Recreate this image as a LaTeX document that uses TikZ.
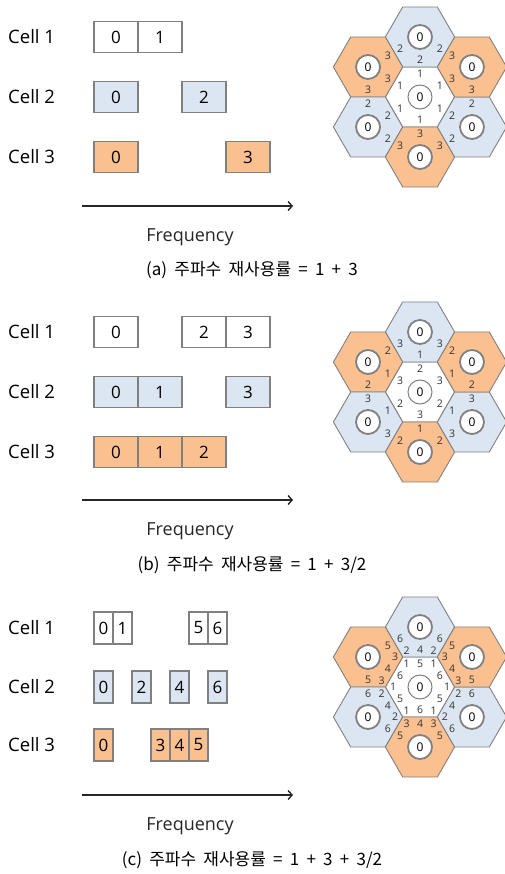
\documentclass[tikz,border=0pt]{standalone}
\usepackage{fontspec}
\setmainfont{Open Sans}
\newfontfamily\krfont[WordSpace=1.9]{Noto Sans CJK KR}
\usetikzlibrary{arrows.meta,positioning,shapes.geometric,calc}
\definecolor{SlotBlue}{RGB}{220,230,242}
\definecolor{SlotOrange}{RGB}{250,192,144}
\definecolor{LineGray}{RGB}{128,128,128}
\tikzset{
  cellname/.style={anchor=west,inner sep=0pt,font=\fontsize{18.5}{20}\selectfont},
  slotbox/.style={draw=LineGray,line width=1.1pt,fill=white,inner sep=0pt,outer sep=0pt,
    minimum width=44pt,minimum height=31pt,font=\fontsize{17}{20}\selectfont},
  narrowslot/.style={slotbox,minimum width=19pt,minimum height=32pt},
  blueslot/.style={fill=SlotBlue},
  orangeslot/.style={fill=SlotOrange},
  hexcell/.style={draw=LineGray,line width=0.9pt,regular polygon,regular polygon sides=6,
    minimum size=69.3pt,inner sep=0pt,outer sep=0pt},
  ring/.style={circle,draw=LineGray,line width=1.8pt,fill=white,minimum size=24pt,
    inner sep=0pt,font=\fontsize{12}{12}\selectfont},
  edgenum/.style={inner sep=0pt,text=black!80,font=\fontsize{10.5}{10}\selectfont},
  freqarrow/.style={-{Straight Barb[length=4pt,width=9pt]},line width=1.4pt,draw=black!85},
  freqtext/.style={font=\fontsize{18}{20}\selectfont,text=black!85},
  subcap/.style={font=\krfont\fontsize{17}{20}\selectfont},
}
\begin{document}
\begin{tikzpicture}[x=1pt,y=1pt]
\useasboundingbox (0,0) rectangle (505,-874);

% ---------- (a) 1 + 3
\node[cellname] (a-l1) at (8,-37) {Cell 1};
\node[cellname] (a-l2) at (8,-97) {Cell 2};
\node[cellname] (a-l3) at (8,-157) {Cell 3};
\node[slotbox,anchor=west] (a-1-0) at (94,-37) {0};
\node[slotbox,right=0pt of a-1-0] (a-1-1) {1};
\node[slotbox,blueslot,anchor=west] (a-2-0) at (94,-97) {0};
\node[slotbox,blueslot,right=44pt of a-2-0] (a-2-2) {2};
\node[slotbox,orangeslot,anchor=west] (a-3-0) at (94,-157) {0};
\node[slotbox,orangeslot,right=88pt of a-3-0] (a-3-3) {3};
\coordinate (a-f0) at (82,-206);
\coordinate (a-f1) at (293,-206);
\draw[freqarrow] (a-f0) -- (a-f1);
\node[freqtext] (a-freq) at (190,-237) {Frequency};
\node[subcap] (a-cap) at (252,-270) {(a) 주파수 재사용률 = 1 + 3};

\node[hexcell,fill=white] (a-h0) at (420,-97) {};
\foreach \k/\col [evaluate=\k as \ang using int(30+60*\k)] in
    {1/SlotBlue,2/SlotOrange,3/SlotBlue,4/SlotOrange,5/SlotBlue,6/SlotOrange}
  \node[hexcell,fill=\col] (a-h\k) at ($(a-h0)+(\ang:60)$) {};
\node[ring,line width=1pt] (a-r0) at (a-h0) {0};
\foreach \k in {1,...,6}
  \node[ring] (a-r\k) at (a-h\k) {0};
\foreach \a in {30,90,...,330}
  \node[edgenum] (a-e0-\a) at ($(a-h0)+(\a:23)$) {1};
\foreach \k/\v [evaluate=\k as \ang using int(30+60*\k)] in {1/2,2/3,3/2,4/3,5/2,6/3}
  \foreach \e in {120,180,240}
    \node[edgenum] (a-e\k-\e) at ($(a-h\k)+(\ang+\e:23)$) {\v};

% ---------- (b) 1 + 3/2
\node[cellname] (b-l1) at (8,-332) {Cell 1};
\node[cellname] (b-l2) at (8,-392) {Cell 2};
\node[cellname] (b-l3) at (8,-452) {Cell 3};
\node[slotbox,anchor=west] (b-1-0) at (94,-332) {0};
\node[slotbox,right=44pt of b-1-0] (b-1-2) {2};
\node[slotbox,right=0pt of b-1-2] (b-1-3) {3};
\node[slotbox,blueslot,anchor=west] (b-2-0) at (94,-392) {0};
\node[slotbox,blueslot,right=0pt of b-2-0] (b-2-1) {1};
\node[slotbox,blueslot,right=44pt of b-2-1] (b-2-3) {3};
\node[slotbox,orangeslot,anchor=west] (b-3-0) at (94,-452) {0};
\node[slotbox,orangeslot,right=0pt of b-3-0] (b-3-1) {1};
\node[slotbox,orangeslot,right=0pt of b-3-1] (b-3-2) {2};
\coordinate (b-f0) at (82,-500);
\coordinate (b-f1) at (293,-500);
\draw[freqarrow] (b-f0) -- (b-f1);
\node[freqtext] (b-freq) at (190,-531) {Frequency};
\node[subcap] (b-cap) at (252,-565) {(b) 주파수 재사용률 = 1 + 3/2};

\node[hexcell,fill=white] (b-h0) at (420,-392) {};
\foreach \k/\col [evaluate=\k as \ang using int(30+60*\k)] in
    {1/SlotBlue,2/SlotOrange,3/SlotBlue,4/SlotOrange,5/SlotBlue,6/SlotOrange}
  \node[hexcell,fill=\col] (b-h\k) at ($(b-h0)+(\ang:60)$) {};
\node[ring,line width=1pt] (b-r0) at (b-h0) {0};
\foreach \k in {1,...,6}
  \node[ring] (b-r\k) at (b-h\k) {0};
\foreach \a/\v in {90/2,210/2,330/2,30/3,150/3,270/3}
  \node[edgenum] (b-e0-\a) at ($(b-h0)+(\a:23)$) {\v};
\foreach \k/\v [evaluate=\k as \ang using int(30+60*\k)] in {1/3,2/2,3/3,4/2,5/3,6/2} {
  \node[edgenum] (b-e\k-180) at ($(b-h\k)+(\ang+180:23)$) {1};
  \foreach \e in {120,240}
    \node[edgenum] (b-e\k-\e) at ($(b-h\k)+(\ang+\e:23)$) {\v};
}

% ---------- (c) 1 + 3 + 3/2
\node[cellname] (c-l1) at (8,-628) {Cell 1};
\node[cellname] (c-l2) at (8,-687) {Cell 2};
\node[cellname] (c-l3) at (8,-745) {Cell 3};
\node[narrowslot,anchor=west] (c-1-0) at (94,-628) {0};
\node[narrowslot,right=0pt of c-1-0] (c-1-1) {1};
\node[narrowslot,right=57pt of c-1-1] (c-1-5) {5};
\node[narrowslot,right=0pt of c-1-5] (c-1-6) {6};
\node[narrowslot,blueslot,anchor=west] (c-2-0) at (94,-687) {0};
\node[narrowslot,blueslot,right=19pt of c-2-0] (c-2-2) {2};
\node[narrowslot,blueslot,right=19pt of c-2-2] (c-2-4) {4};
\node[narrowslot,blueslot,right=19pt of c-2-4] (c-2-6) {6};
\node[narrowslot,orangeslot,anchor=west] (c-3-0) at (94,-745) {0};
\node[narrowslot,orangeslot,right=38pt of c-3-0] (c-3-3) {3};
\node[narrowslot,orangeslot,right=0pt of c-3-3] (c-3-4) {4};
\node[narrowslot,orangeslot,right=0pt of c-3-4] (c-3-5) {5};
\coordinate (c-f0) at (82,-795);
\coordinate (c-f1) at (293,-795);
\draw[freqarrow] (c-f0) -- (c-f1);
\node[freqtext] (c-freq) at (190,-826) {Frequency};
\node[subcap] (c-cap) at (252,-860) {(c) 주파수 재사용률 = 1 + 3 + 3/2};

\node[hexcell,fill=white] (c-h0) at (420,-687) {};
\foreach \k/\col [evaluate=\k as \ang using int(30+60*\k)] in
    {1/SlotBlue,2/SlotOrange,3/SlotBlue,4/SlotOrange,5/SlotBlue,6/SlotOrange}
  \node[hexcell,fill=\col] (c-h\k) at ($(c-h0)+(\ang:60)$) {};
\node[ring,line width=1pt] (c-r0) at (c-h0) {0};
\foreach \k in {1,...,6}
  \node[ring] (c-r\k) at (c-h\k) {0};
\foreach \a/\v in {90/5,210/5,330/5,30/6,150/6,270/6}
  \node[edgenum] (c-e0-\a) at ($(c-h0)+(\a:23)$) {\v};
\foreach \a in {0,60,...,300}
  \node[edgenum] (c-v0-\a) at ($(c-h0)+(\a:27)$) {1};
\foreach \k/\v/\c [evaluate=\k as \ang using int(30+60*\k)] in
    {1/6/2,2/5/3,3/6/2,4/5/3,5/6/2,6/5/3} {
  \node[edgenum] (c-e\k-180) at ($(c-h\k)+(\ang+180:23)$) {4};
  \foreach \e in {120,240}
    \node[edgenum] (c-e\k-\e) at ($(c-h\k)+(\ang+\e:23)$) {\v};
  \foreach \e in {150,210}
    \node[edgenum] (c-v\k-\e) at ($(c-h\k)+(\ang+\e:27)$) {\c};
}
\end{tikzpicture}
\end{document}
